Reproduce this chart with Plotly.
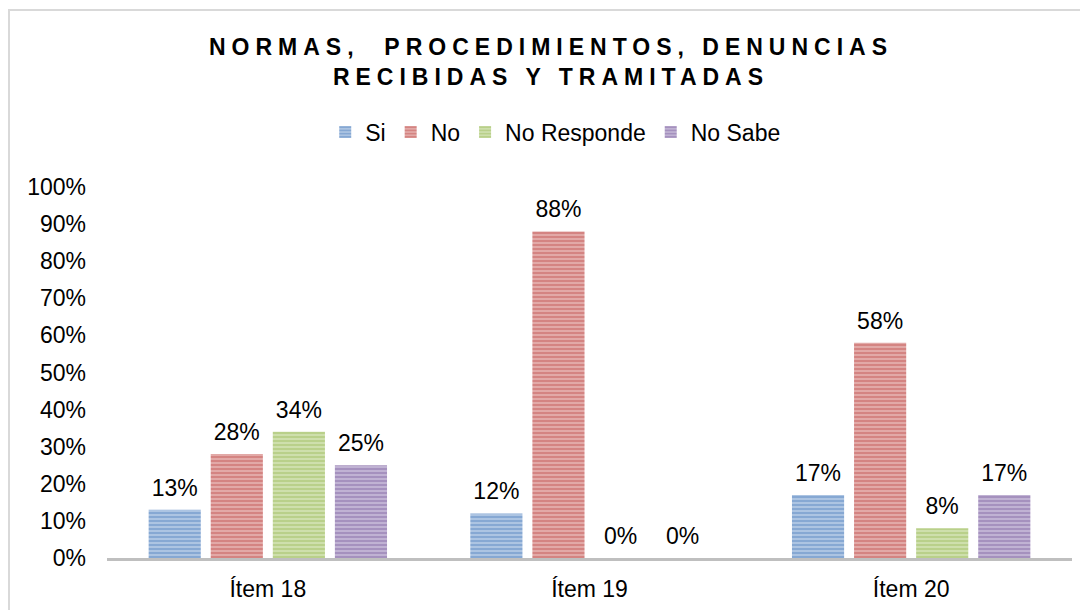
import plotly.graph_objects as go

categories = ["Ítem 18", "Ítem 19", "Ítem 20"]
series_names = ["Si", "No", "No Responde", "No Sabe"]
si = [0.13, 0.12, 0.17]
no = [0.28, 0.88, 0.58]
no_responde = [0.34, 0.00, 0.08]
no_sabe = [0.25, 0.00, 0.17]
y_ticks = [0, 0.1, 0.2, 0.3, 0.4, 0.5, 0.6, 0.7, 0.8, 0.9, 1.0]
y_tick_labels = ["0%", "10%", "20%", "30%", "40%", "50%", "60%", "70%", "80%", "90%", "100%"]

dark = ["#4F81BD", "#C0504D", "#9BBB59", "#8064A2"]
light = ["#BCCFE8", "#E8B8B6", "#D6E5BA", "#CBBFDB"]

FONT = "Liberation Sans, Arial, sans-serif"
FS = 23

fig = go.Figure()
all_vals = [si, no, no_responde, no_sabe]
for i, (name, vals, d, l) in enumerate(zip(series_names, all_vals, dark, light)):
    fig.add_trace(go.Bar(
        name=name, x=categories, y=vals, offsetgroup=str(i),
        marker=dict(color=l, line=dict(width=0),
                    pattern=dict(shape="-", fgcolor=d, bgcolor=l, size=4, solidity=0.65)),
    ))
for i, (name, vals) in enumerate(zip(series_names, all_vals)):
    fig.add_trace(go.Scatter(
        name=name, x=categories, y=vals, offsetgroup=str(i), mode="markers+text",
        marker=dict(size=12, opacity=0, color="white"),
        text=[f"{round(v*100)}%" for v in vals],
        textposition="top center",
        textfont=dict(family=FONT, size=FS, color="#000000"),
        showlegend=False, hoverinfo="skip", cliponaxis=False,
    ))

fig.update_layout(
    width=1088, height=610,
    paper_bgcolor="white", plot_bgcolor="white",
    margin=dict(l=99, r=24, t=179, b=60),
    barmode="group", bargap=0.228, bargroupgap=0.16,
    scattermode="group", scattergap=0.228,
    font=dict(family=FONT, size=FS, color="#000000"),
    title=dict(
        text='<span style="letter-spacing:6px"><b>NORMAS,  PROCEDIMIENTOS, DENUNCIAS</b></span><br>'
             '<span style="letter-spacing:6px"><b>RECIBIDAS Y TRAMITADAS</b></span>',
        x=543/1088, xanchor="center", xref="container",
        y=1-47/610, yanchor="top", yref="container",
        font=dict(family=FONT, size=23, color="#000000"),
    ),
    legend=dict(orientation="h", x=0.465, xanchor="center", y=1.148, yanchor="middle",
                font=dict(family=FONT, size=FS), traceorder="normal", itemwidth=30),
    showlegend=True,
    xaxis=dict(showline=True, linecolor="#BFBFBF", linewidth=3, ticks="",
               tickfont=dict(family=FONT, size=FS), showgrid=False, ticklabelstandoff=8),
    yaxis=dict(range=[0, 1], tickvals=y_ticks, ticktext=y_tick_labels, showgrid=False,
               zeroline=False, showline=False, ticks="", ticklabelstandoff=20,
               tickfont=dict(family=FONT, size=FS)),
    shapes=[dict(type="rect", xref="paper", yref="paper",
                 x0=(1-99)/965, x1=1.2, y0=-0.5, y1=(550-2)/371,
                 line=dict(color="#D9D9D9", width=2), fillcolor="rgba(0,0,0,0)", layer="below")],
)

fig.write_html("out.html")
